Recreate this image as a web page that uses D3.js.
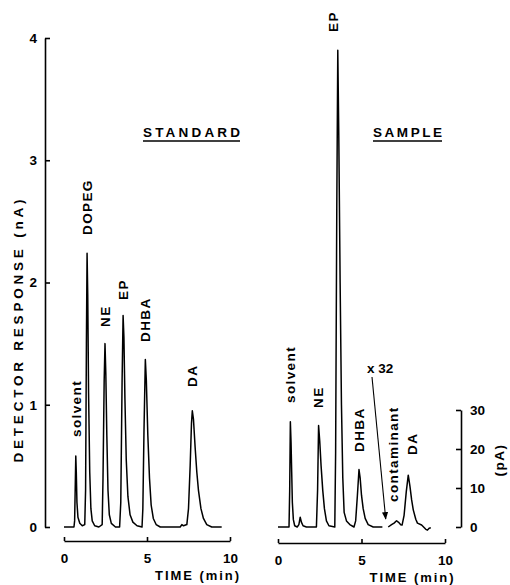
<!DOCTYPE html>
<meta charset="utf-8">
<script src="https://d3js.org/d3.v7.min.js"></script>
<style>
  body { margin: 0; background: #fff; }
  svg text { font-family: "Liberation Sans", Arial, sans-serif; font-weight: bold; fill: #000; }
</style>
<svg width="510" height="585"></svg>
<script>

// standard chromatogram (time min, response nA)
const stdTime = [0, 0.6, 0.64, 0.68, 0.71, 0.74, 0.78, 0.84, 0.95, 1.1, 1.25, 1.3, 1.35, 1.39, 1.43, 1.48, 1.55, 1.62, 1.7, 1.85, 2.1,
  2.3, 2.35, 2.42, 2.47, 2.52, 2.58, 2.65, 2.73, 2.85, 3.1, 3.35, 3.42, 3.5, 3.56, 3.61, 3.67, 3.75, 3.85, 3.98, 4.15, 4.4, 4.7,
  4.75, 4.82, 4.9, 4.96, 5.05, 5.15, 5.25, 5.38, 5.55, 5.8, 7.0, 7.1, 7.2, 7.4, 7.5, 7.6, 7.68, 7.73, 7.8, 7.9, 8.0, 8.1, 8.25,
  8.4, 8.6, 8.9, 9.5];
const stdNA = [0, 0, 0.05, 0.35, 0.58, 0.45, 0.2, 0.08, 0.03, 0.01, 0.02, 0.3, 1.5, 2.24, 1.9, 1.1, 0.45, 0.15, 0.05, 0.01, 0,
  0.02, 0.4, 1.2, 1.5, 1.25, 0.75, 0.3, 0.1, 0.03, 0, 0, 0.2, 1.2, 1.73, 1.55, 1.05, 0.55, 0.25, 0.1, 0.04, 0.01, 0,
  0.15, 0.8, 1.37, 1.2, 0.75, 0.4, 0.18, 0.07, 0.02, 0, 0, 0.02, 0.01, 0.02, 0.15, 0.5, 0.85, 0.95, 0.88, 0.65, 0.45, 0.3, 0.15,
  0.07, 0.02, 0, 0];

// sample chromatogram, nA part
const smpTime = [0, 0.66, 0.7, 0.74, 0.78, 0.82, 0.86, 0.92, 1.0, 1.15, 1.25, 1.33, 1.4, 1.5, 1.7, 2.3, 2.37, 2.43, 2.5, 2.58,
  2.68, 2.78, 2.9, 3.05, 3.4, 3.45, 3.52, 3.58, 3.64, 3.72, 3.8, 3.88, 3.96, 4.1, 4.3, 4.55, 4.65, 4.75, 4.85, 4.92, 5.0, 5.1,
  5.22, 5.4, 5.7, 6.25];
const smpNA = [0, 0, 0.3, 0.86, 0.7, 0.45, 0.2, 0.06, 0.01, 0, 0.02, 0.08, 0.04, 0.01, 0, 0, 0.3, 0.83, 0.7, 0.5,
  0.3, 0.15, 0.05, 0.01, 0, 0.6, 2.6, 3.9, 3.2, 2.0, 1.0, 0.4, 0.12, 0.05, 0.02, 0, 0.05, 0.25, 0.47, 0.4, 0.26, 0.15,
  0.07, 0.02, 0, 0];

// sample chromatogram, x32 part (pA)
const ampTime = [6.6, 6.8, 6.95, 7.1, 7.22, 7.35, 7.43, 7.55, 7.68, 7.8, 7.9, 8.0, 8.1, 8.25, 8.35, 8.6, 8.85, 8.95, 9.05, 9.15];
const ampPA = [0, 0.6, 1.0, 1.6, 1.2, 0.6, 0.5, 3, 9, 13.3, 10.5, 7, 4.4, 2, 1, 0.5, -0.6, -0.8, -0.3, -0.2];

const stdLabels = ['solvent', 'DOPEG', 'NE', 'EP', 'DHBA', 'DA'];
const stdPeakTimes = [0.71, 1.39, 2.47, 3.56, 4.9, 7.73];
const smpLabels = ['solvent', 'NE', 'EP', 'DHBA', 'contaminant', 'DA'];
const smpPeakTimes = [0.74, 2.43, 3.58, 4.85, 7.1, 7.8];

const nATicks = [0, 1, 2, 3, 4];
const pATicks = [0, 10, 20, 30];
const timeTicks = [0, 5, 10];

const svg = d3.select('svg');

const xL = d3.scaleLinear().domain([0, 10]).range([64, 230]);
const xR = d3.scaleLinear().domain([0, 10]).range([278, 445]);
const y = d3.scaleLinear().domain([0, 4]).range([527, 38]);
const yPA = d3.scaleLinear().domain([0, 30]).range([527, 410]);

// y axis (nA)
const gy = svg.append('g')
  .attr('transform', 'translate(45,0)')
  .call(d3.axisLeft(y).tickValues(nATicks).tickFormat(d3.format('d')).tickSize(-5).tickSizeOuter(0).tickPadding(8));
gy.selectAll('text').style('font-size', '13.5px');

svg.append('text')
  .attr('transform', 'translate(23,331) rotate(-90)')
  .attr('text-anchor', 'middle')
  .attr('textLength', 263).attr('lengthAdjust', 'spacing')
  .style('font-size', '13.5px')
  .text('DETECTOR  RESPONSE  (nA)');

// pA axis
const gp = svg.append('g')
  .attr('transform', 'translate(461,0)')
  .call(d3.axisRight(yPA).tickValues(pATicks).tickSize(-5).tickSizeOuter(0).tickPadding(9));
gp.selectAll('text').style('font-size', '13.5px');

svg.append('text')
  .attr('transform', 'translate(504,460) rotate(-90)')
  .attr('text-anchor', 'middle')
  .style('font-size', '13.5px').style('letter-spacing', '1.5px')
  .text('(pA)');

// time axes
function timeAxis(x, yPos) {
  const g = svg.append('g')
    .attr('transform', 'translate(0,' + yPos + ')')
    .call(d3.axisBottom(x).tickValues(timeTicks).tickSize(-4).tickSizeOuter(0).tickPadding(12));
  g.selectAll('text').style('font-size', '13.5px');
  svg.append('text')
    .attr('x', (x(0) + x(10)) / 2 + 50).attr('y', yPos + 39)
    .attr('text-anchor', 'middle')
    .attr('textLength', 84).attr('lengthAdjust', 'spacing')
    .style('font-size', '13px')
    .text('TIME (min)');
}
timeAxis(xL, 541);
timeAxis(xR, 543);

svg.selectAll('.domain, .tick line').attr('stroke', '#000').attr('stroke-width', 1.6);

// traces
const line = (x, yy) => d3.line().x(d => x(d[0])).y(d => yy(d[1]));
function trace(x, yy, ts, vs) {
  svg.append('path')
    .datum(ts.map((t, i) => [t, vs[i]]))
    .attr('fill', 'none').attr('stroke', '#000').attr('stroke-width', 1.5)
    .attr('stroke-linejoin', 'round')
    .attr('d', line(x, yy));
}
trace(xL, y, stdTime, stdNA);
trace(xR, y, smpTime, smpNA);
trace(xR, yPA, ampTime, ampPA);

// peak labels (bottom of rotated text, px)
const stdLabelBottom = [437, 235, 327, 300, 342, 387];
const smpLabelBottom = [403, 408, 32, 452, 502, 455];
const smpLabelShift = [0, 0, -5, 0, -3, 4];

function peakLabels(x, names, times, bottoms, shifts) {
  names.forEach((n, i) => {
    svg.append('text')
      .attr('transform', 'translate(' + (x(times[i]) + (shifts ? shifts[i] : 0)) + ',' + bottoms[i] + ') rotate(-90)')
      .attr('dy', '0.36em')
      .style('font-size', '13.5px').style('letter-spacing', '1.4px')
      .text(n);
  });
}
peakLabels(xL, stdLabels, stdPeakTimes, stdLabelBottom);
peakLabels(xR, smpLabels, smpPeakTimes, smpLabelBottom, smpLabelShift);

// panel titles
function title(txt, x0, len) {
  svg.append('text')
    .attr('x', x0).attr('y', 137)
    .attr('textLength', len).attr('lengthAdjust', 'spacing')
    .style('font-size', '13.5px')
    .text(txt);
  svg.append('line')
    .attr('x1', x0).attr('x2', x0 + len).attr('y1', 141).attr('y2', 141)
    .attr('stroke', '#000').attr('stroke-width', 1.5);
}
title('STANDARD', 143, 97);
title('SAMPLE', 373, 69);

// x32 note with arrow
svg.append('defs').append('marker')
  .attr('id', 'ah').attr('viewBox', '0 0 10 10').attr('refX', 9).attr('refY', 5)
  .attr('markerWidth', 7).attr('markerHeight', 7).attr('orient', 'auto')
  .append('path').attr('d', 'M0,1 L10,5 L0,9 z').attr('fill', '#000');

svg.append('text')
  .attr('x', 367).attr('y', 373)
  .style('font-size', '13.5px')
  .text('x 32');
svg.append('line')
  .attr('x1', 372).attr('y1', 377)
  .attr('x2', xR(6.45)).attr('y2', y(0) - 8)
  .attr('stroke', '#000').attr('stroke-width', 1.1)
  .attr('marker-end', 'url(#ah)');

</script>
